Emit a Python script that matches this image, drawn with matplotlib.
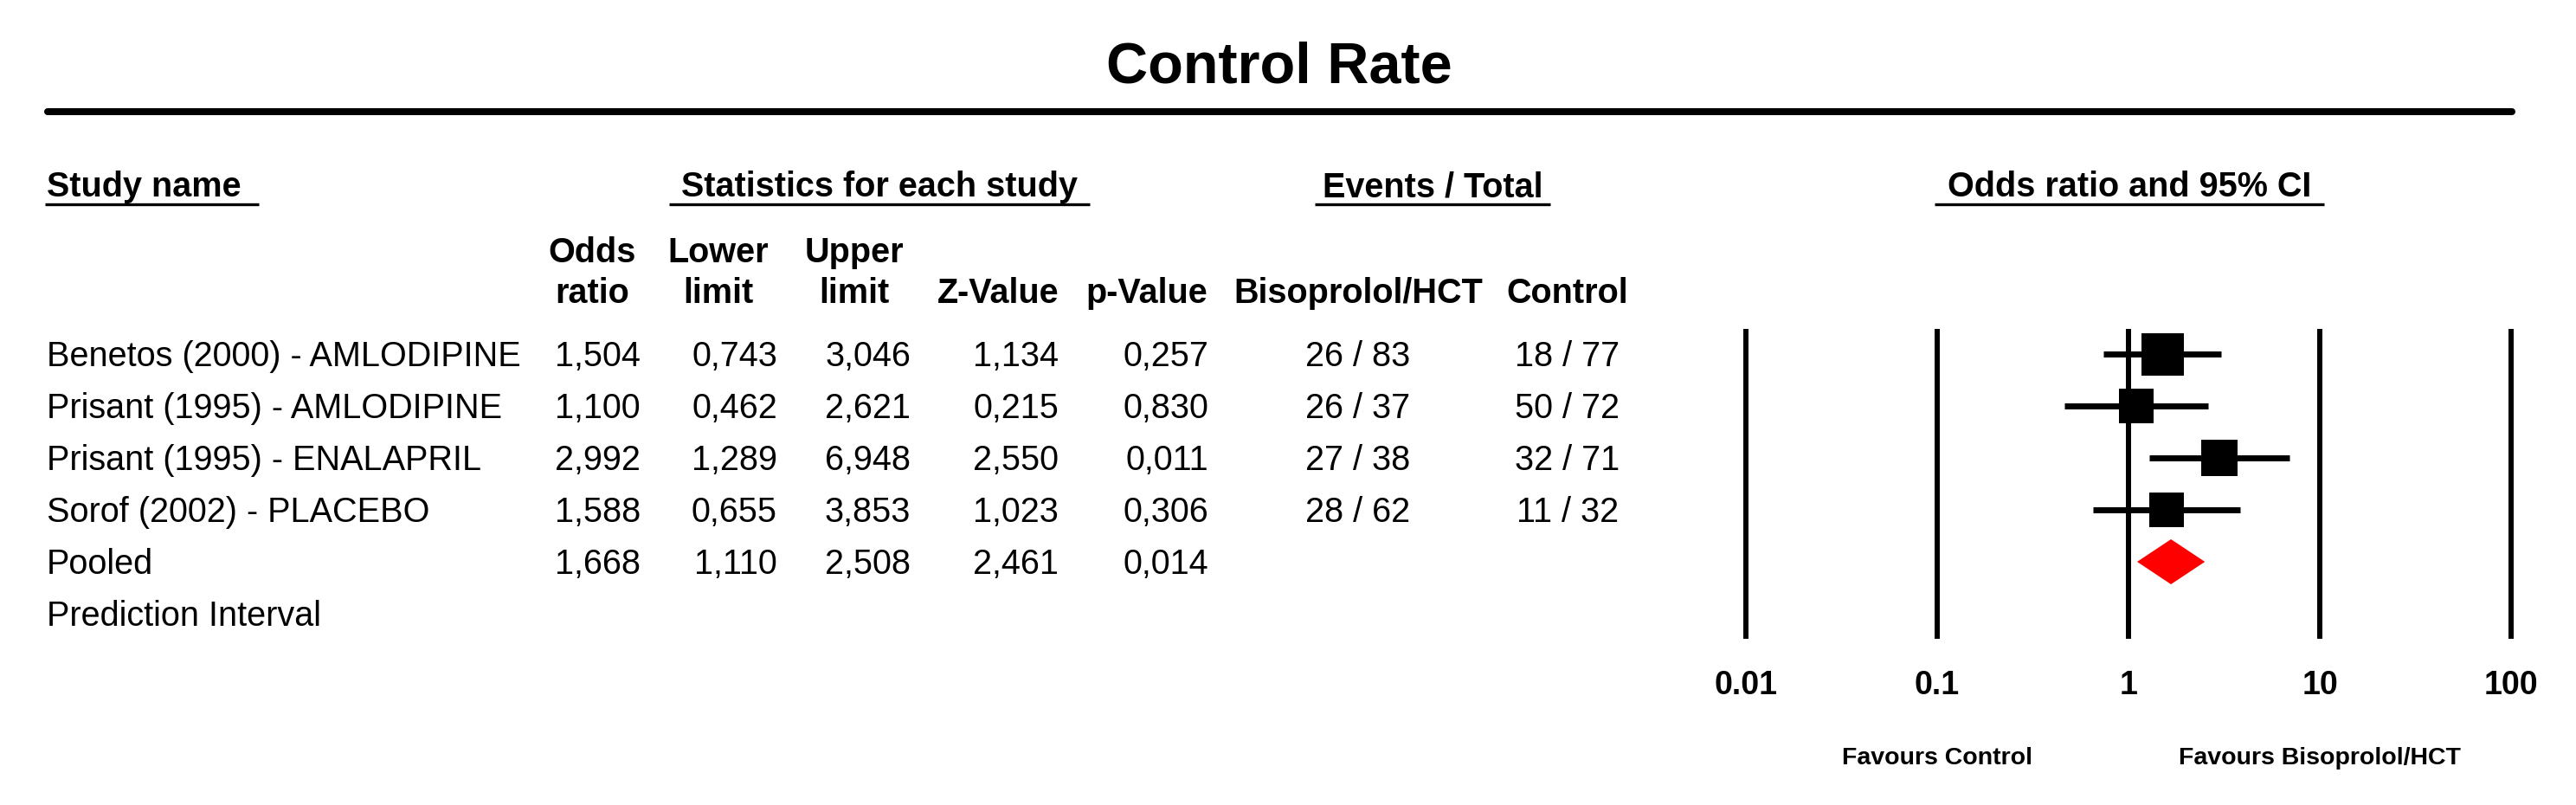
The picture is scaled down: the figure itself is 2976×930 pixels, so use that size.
import matplotlib
matplotlib.use('Agg')
import matplotlib.pyplot as plt
from matplotlib.ticker import NullLocator
import numpy as np

plt.rcParams['font.family'] = ['Liberation Sans', 'DejaVu Sans']

# --- data ---
studies = ['Benetos (2000) - AMLODIPINE', 'Prisant (1995) - AMLODIPINE',
           'Prisant (1995) - ENALAPRIL', 'Sorof (2002) - PLACEBO']
odds = [1.504, 1.100, 2.992, 1.588]
lower = [0.743, 0.462, 1.289, 0.655]
upper = [3.046, 2.621, 6.948, 3.853]
zval = [1.134, 0.215, 2.550, 1.023]
pval = [0.257, 0.830, 0.011, 0.306]
bis_events = [26, 26, 27, 28]
bis_total = [83, 37, 38, 62]
ctl_events = [18, 50, 32, 11]
ctl_total = [77, 72, 71, 32]

pooled = {'odds': 1.668, 'lower': 1.110, 'upper': 2.508, 'z': 2.461, 'p': 0.014}

axis_ticks = [0.01, 0.1, 1, 10, 100]
axis_labels = ['0.01', '0.1', '1', '10', '100']


def fmt(v):
    return f'{v:.3f}'.replace('.', ',')


W, H = 2976, 930
fig = plt.figure(figsize=(W / 100, H / 100), dpi=100, facecolor='white')

# background axes in pixel units (y from top) for the table part
ax = fig.add_axes([0, 0, 1, 1])
ax.set_xlim(0, W)
ax.set_ylim(H, 0)
ax.axis('off')

body = 28.5
head = 28.5

ax.text(1478, 95, 'Control Rate', ha='center', va='baseline', fontsize=48, fontweight='bold')
ax.plot([55, 2902], [129, 129], color='black', lw=5.8, solid_capstyle='round')

# group headers with underlines
groups = [('Study name', 54, 'left', 2, 20),
          ('Statistics for each study', 1016, 'center', 14, 14),
          ('Events / Total', 1655, 'center', 9, 9),
          ('Odds ratio and 95% CI', 2460, 'center', 15, 15)]
gtexts = []
for label, x, ha, pl, pr in groups:
    t = ax.text(x, 227, label, ha=ha, va='baseline', fontsize=head, fontweight='bold')
    gtexts.append((t, pl, pr))

# column headers
col_right = [740, 898, 1052, 1223, 1396]
col_head_x = [684, 830, 987, 1153, 1325]
col_head1 = ['Odds', 'Lower', 'Upper', '', '']
col_head2 = ['ratio', 'limit', 'limit', 'Z-Value', 'p-Value']
for x, h1, h2 in zip(col_head_x, col_head1, col_head2):
    ax.text(x, 303, h1, ha='center', va='baseline', fontsize=head, fontweight='bold')
    ax.text(x, 350, h2, ha='center', va='baseline', fontsize=head, fontweight='bold')
ev_x = [1569, 1811]
ax.text(ev_x[0], 350, 'Bisoprolol/HCT', ha='center', va='baseline', fontsize=head, fontweight='bold')
ax.text(ev_x[1], 350, 'Control', ha='center', va='baseline', fontsize=head, fontweight='bold')

# rows
row0, step = 409, 60
for i, name in enumerate(studies):
    yb = row0 + step * i + 14
    ax.text(54, yb, name, ha='left', va='baseline', fontsize=body)
    for x, v in zip(col_right, [odds[i], lower[i], upper[i], zval[i], pval[i]]):
        ax.text(x, yb, fmt(v), ha='right', va='baseline', fontsize=body)
    ax.text(ev_x[0], yb, f'{bis_events[i]} / {bis_total[i]}', ha='center', va='baseline', fontsize=body)
    ax.text(ev_x[1], yb, f'{ctl_events[i]} / {ctl_total[i]}', ha='center', va='baseline', fontsize=body)

yb = row0 + step * len(studies) + 14
ax.text(54, yb, 'Pooled', ha='left', va='baseline', fontsize=body)
for x, k in zip(col_right, ['odds', 'lower', 'upper', 'z', 'p']):
    ax.text(x, yb, fmt(pooled[k]), ha='right', va='baseline', fontsize=body)
ax.text(54, yb + step, 'Prediction Interval', ha='left', va='baseline', fontsize=body)

# underline the group headers
fig.canvas.draw()
renderer = fig.canvas.get_renderer()
inv = ax.transData.inverted()
for t, pl, pr in gtexts:
    bb = t.get_window_extent(renderer)
    (x0, _), (x1, _) = inv.transform([[bb.x0, 0], [bb.x1, 0]])
    ax.plot([x0 - pl, x1 + pr], [236, 236], color='black', lw=2.4, solid_capstyle='butt')

# --- forest plot axes ---
x_one, decade = 2459, 221
left_px, right_px, top_px, bot_px = 1960, 2960, 360, 760
fax = fig.add_axes([left_px / W, (H - bot_px) / H, (right_px - left_px) / W, (bot_px - top_px) / H])
fax.set_xscale('log')
fax.set_xlim(10 ** ((left_px - x_one) / decade), 10 ** ((right_px - x_one) / decade))
fax.set_ylim((bot_px - row0) / step, (top_px - row0) / step)
fax.patch.set_alpha(0)
for s in fax.spines.values():
    s.set_visible(False)
fax.set_yticks([])
fax.xaxis.set_minor_locator(NullLocator())
fax.set_xticks(axis_ticks)
fax.set_xticklabels(axis_labels, fontsize=27, fontweight='bold')
fax.tick_params(axis='x', length=0, pad=10)

fax.vlines(axis_ticks, (380 - row0) / step, (738 - row0) / step, color='black', lw=4.3, zorder=1)

rows = np.arange(len(studies))
fax.hlines(rows, lower, upper, color='black', lw=5, zorder=2)
# square size ~ inverse-variance weight
se = (np.log(upper) - np.log(lower)) / (2 * 1.96)
w = 1 / se ** 2
side_px = 49 * np.sqrt(w / w.max())
for r, o, s in zip(rows, odds, side_px):
    fax.plot(o, r, marker='s', markersize=s * 0.72, color='black', markeredgewidth=0, zorder=3)

pr = len(studies)
dh = 26 / step
fax.fill([pooled['lower'], pooled['odds'], pooled['upper'], pooled['odds']],
         [pr, pr - dh, pr, pr + dh], color='#ff0000', lw=0, zorder=3)

tr = fax.get_xaxis_transform()
fax.text(0.1, 0.0, 'Favours Control', transform=tr, ha='center', va='baseline',
         fontsize=20.5, fontweight='bold')
fax.text(10, 0.0, 'Favours Bisoprolol/HCT', transform=tr, ha='center', va='baseline',
         fontsize=20.5, fontweight='bold')
# move the two captions to their pixel row (883 from top)
for t in fax.texts[-2:]:
    t.set_y(-(883 - bot_px) / (bot_px - top_px))

fig.savefig('out.png', dpi=100, facecolor='white')
